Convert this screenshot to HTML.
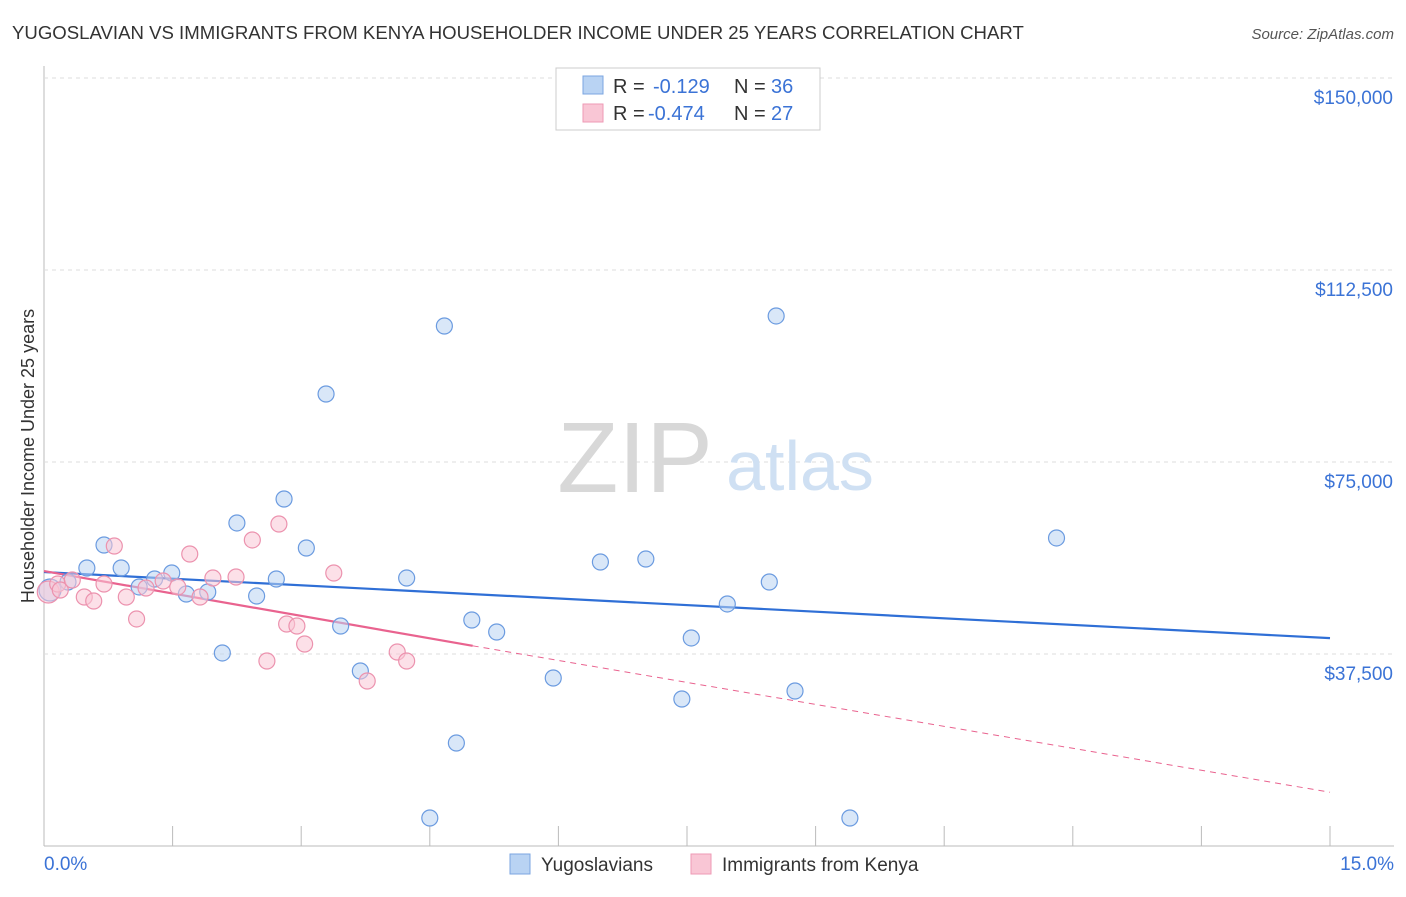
<!DOCTYPE html>
<html><head><meta charset="utf-8"><style>
body{margin:0;background:#fff;font-family:"Liberation Sans",sans-serif;}
svg text{font-family:"Liberation Sans",sans-serif;}
</style></head><body>
<svg id="chart" width="1406" height="892" xmlns="http://www.w3.org/2000/svg">
<text x="12" y="39" font-size="18.6" fill="#333">YUGOSLAVIAN VS IMMIGRANTS FROM KENYA HOUSEHOLDER INCOME UNDER 25 YEARS CORRELATION CHART</text>
<text x="1394" y="39" font-size="15" fill="#555" font-style="italic" text-anchor="end">Source: ZipAtlas.com</text>
<text transform="translate(34,456) rotate(-90)" font-size="18" fill="#333" text-anchor="middle">Householder Income Under 25 years</text>
<g id="grid"></g>
<g>
<text x="635" y="492" font-size="100" fill="#d8d8d8" font-family="Liberation Serif" text-anchor="middle">ZIP</text>
<text x="800" y="490" font-size="70" fill="#cfe0f3" text-anchor="middle">atlas</text>
</g>
<g id="lines"></g>
<g id="points"></g>
<g>
<rect x="556" y="68" width="264" height="62" fill="#fff" stroke="#ccc"/>
<rect x="583" y="76" width="20" height="18" fill="#b9d3f3" stroke="#7ba6e0"/>
<rect x="583" y="104" width="20" height="18" fill="#f9c6d5" stroke="#ee9ab5"/>
<text x="613" y="93" font-size="20" fill="#333">R =</text>
<text x="653" y="93" font-size="20" fill="#3b73d6">-0.129</text>
<text x="734" y="93" font-size="20" fill="#333">N =</text>
<text x="771" y="93" font-size="20" fill="#3b73d6">36</text>
<text x="613" y="120" font-size="20" fill="#333">R =</text>
<text x="648" y="120" font-size="20" fill="#3b73d6">-0.474</text>
<text x="734" y="120" font-size="20" fill="#333">N =</text>
<text x="771" y="120" font-size="20" fill="#3b73d6">27</text>
</g>
<g>
<rect x="510" y="854" width="20" height="20" fill="#b9d3f3" stroke="#7ba6e0"/>
<text x="541" y="871" font-size="19" fill="#333">Yugoslavians</text>
<rect x="691" y="854" width="20" height="20" fill="#f9c6d5" stroke="#ee9ab5"/>
<text x="722" y="871" font-size="19" fill="#333">Immigrants from Kenya</text>
</g>
</svg>
<script>
const yTicks=[37500,75000,112500,150000];
const yTickLabels=["$37,500","$75,000","$112,500","$150,000"];
const xTickLabels=["0.0%","15.0%"];
const blueX=[0.07,0.28,0.50,0.70,0.90,1.11,1.29,1.49,1.66,1.91,2.08,2.25,2.48,2.71,2.80,3.06,3.29,3.46,3.69,4.23,4.50,4.67,4.81,4.99,5.28,5.94,6.49,7.02,7.44,7.55,7.97,8.46,8.54,8.76,9.40,11.81];
const blueY=[50000,51560,54300,58790,54300,50590,52150,53320,49220,49610,37700,63090,48830,52150,67770,58200,88280,42970,34180,52340,5470,101560,20120,44140,41800,32810,55470,56050,28710,40630,47270,51560,103520,30270,5470,60160];
const pinkX=[0.05,0.16,0.19,0.33,0.47,0.58,0.70,0.82,0.96,1.08,1.19,1.39,1.56,1.70,1.82,1.97,2.24,2.43,2.60,2.74,2.83,2.95,3.04,3.38,3.77,4.12,4.23];
const pinkY=[49610,51170,50000,51950,48630,47850,51170,58590,48630,44340,50390,51760,50590,57030,48630,52340,52540,59770,36130,62890,43360,42970,39450,53320,32230,37890,36130];
const blueTrendX=[0,15], blueTrendY=[53500,40600];
const pinkTrendX=[0,5.0,15], pinkTrendY=[53700,39100,10500];
const X=v=>44+v/15*1286, Y=v=>846-v/37500*192;
const NS="http://www.w3.org/2000/svg";
function mk(tag,parent,attrs){const e=document.createElementNS(NS,tag);for(const k in attrs)e.setAttribute(k,attrs[k]);parent.appendChild(e);return e;}
const g=document.getElementById('grid');
let e=mk('line',g,{x1:44,y1:66,x2:44,y2:846,stroke:'#bbb'});


e=mk('line',g,{x1:44,y1:846,x2:1394,y2:846,stroke:'#bbb'});


for(let i=0;i<=10;i++){e=mk('line',g,{x1:X(i*1.5),y1:826,x2:X(i*1.5),y2:846,stroke:'#bbb'});

}
yTicks.forEach((t,i)=>{e=mk('line',g,{x1:44,y1:Y(t),x2:1394,y2:Y(t),stroke:'#ddd','stroke-dasharray':'4,4'});


const tx=mk('text',g,{x:1393,y:Y(t)+26,'font-size':19,fill:'#3b73d6','text-anchor':'end'});tx.textContent=yTickLabels[i];

});
[[0,'start',44],[15,'end',1394]].forEach((a,i)=>{const tx=mk('text',g,{x:a[2],y:870,'font-size':19,fill:'#3b73d6','text-anchor':a[1]});tx.textContent=xTickLabels[i];

});
const pg=document.getElementById('points');
function dots(xs,ys,fill,stroke,name){xs.forEach((x,i)=>{const c=mk('circle',pg,{cx:X(x),cy:Y(ys[i]),r:i==0?11:8,fill:fill,'fill-opacity':0.55,stroke:stroke,'stroke-width':1.2});

});}
dots(blueX,blueY,'#b9d3f3','#6b9be0','yugoslavian-point');
dots(pinkX,pinkY,'#f9c6d5','#ec92ae','kenya-point');
const lg=document.getElementById('lines');
e=mk('line',lg,{x1:X(blueTrendX[0]),y1:Y(blueTrendY[0]),x2:X(blueTrendX[1]),y2:Y(blueTrendY[1]),stroke:'#2f6fd6','stroke-width':2.2});


e=mk('line',lg,{x1:X(pinkTrendX[0]),y1:Y(pinkTrendY[0]),x2:X(pinkTrendX[1]),y2:Y(pinkTrendY[1]),stroke:'#e9638f','stroke-width':2.2});


e=mk('line',lg,{x1:X(pinkTrendX[1]),y1:Y(pinkTrendY[1]),x2:X(pinkTrendX[2]),y2:Y(pinkTrendY[2]),stroke:'#e9638f','stroke-width':1,'stroke-dasharray':'6,5'});


</script>
</body></html>
